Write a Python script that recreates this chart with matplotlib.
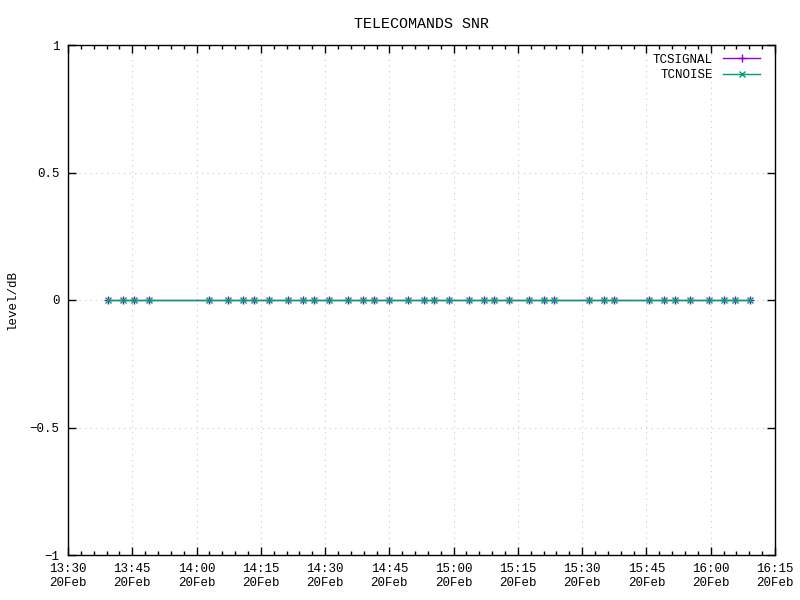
import matplotlib
matplotlib.use("Agg")
import matplotlib.pyplot as plt
import matplotlib.dates as mdates
import numpy as np
import pandas as pd

times = ["13:39:20", "13:42:50", "13:45:25", "13:48:55", "14:02:55", "14:07:20",
         "14:10:50", "14:13:25", "14:16:55", "14:21:20", "14:24:50", "14:27:25",
         "14:30:55", "14:35:20", "14:38:50", "14:41:25", "14:44:55", "14:49:20",
         "14:53:05", "14:55:25", "14:58:55", "15:03:35", "15:07:05", "15:09:25",
         "15:12:55", "15:17:35", "15:21:05", "15:23:25", "15:31:35", "15:35:05",
         "15:37:30", "15:45:35", "15:49:05", "15:51:40", "15:55:10", "15:59:35",
         "16:03:05", "16:05:40", "16:09:10"]
tcsignal = [0.0] * len(times)
tcnoise = [0.0] * len(times)
yticks = [-1, -0.5, 0, 0.5, 1]
ytick_labels = ["\u22121", "\u22120.5", "0", "0.5", "1"]

x = pd.to_datetime(["2024-02-20 " + t for t in times])

plt.rcParams['font.family'] = ['Liberation Mono', 'DejaVu Sans Mono']
plt.rcParams['font.size'] = 9

fig = plt.figure(figsize=(8, 6), dpi=100)
ax = fig.add_axes([0.085, 0.075, 0.88375, 0.85])

ax.plot(x, tcsignal, color='#9400D3', marker='+', markersize=6, linewidth=1, label='TCSIGNAL')
ax.plot(x, tcnoise, color='#009E73', marker='x', markersize=5, linewidth=1, label='TCNOISE')

ax.set_xlim(pd.Timestamp("2024-02-20 13:30"), pd.Timestamp("2024-02-20 16:15"))
ax.set_ylim(-1, 1)
ax.set_yticks(yticks)
ax.set_yticklabels(ytick_labels)
ax.xaxis.set_major_locator(mdates.MinuteLocator(byminute=[0, 15, 30, 45]))
ax.xaxis.set_minor_locator(mdates.MinuteLocator(byminute=range(0, 60, 3)))
ax.xaxis.set_major_formatter(mdates.DateFormatter("%H:%M\n%d%b"))

ax.tick_params(axis='both', which='both', direction='in', top=True, right=True, colors='black')
ax.tick_params(axis='both', which='major', length=6, width=1, pad=6)
ax.tick_params(axis='x', which='minor', length=3, width=1)
for s in ax.spines.values():
    s.set_linewidth(1)
    s.set_color('black')

ax.grid(True, which='major', linestyle=(0, (1, 4)), color='#c8c8c8', linewidth=0.8)
ax.set_axisbelow(True)

ax.set_ylabel("level/dB", labelpad=8)
ax.set_title("TELECOMANDS SNR", pad=12)

leg = ax.legend(loc='upper right', bbox_to_anchor=(1 - 6 / 707, 1), frameon=False,
                markerfirst=False, handlelength=3.0,
                borderaxespad=0.3, labelspacing=0.3, handletextpad=0.8)

fig.savefig("out.png", dpi=100)
